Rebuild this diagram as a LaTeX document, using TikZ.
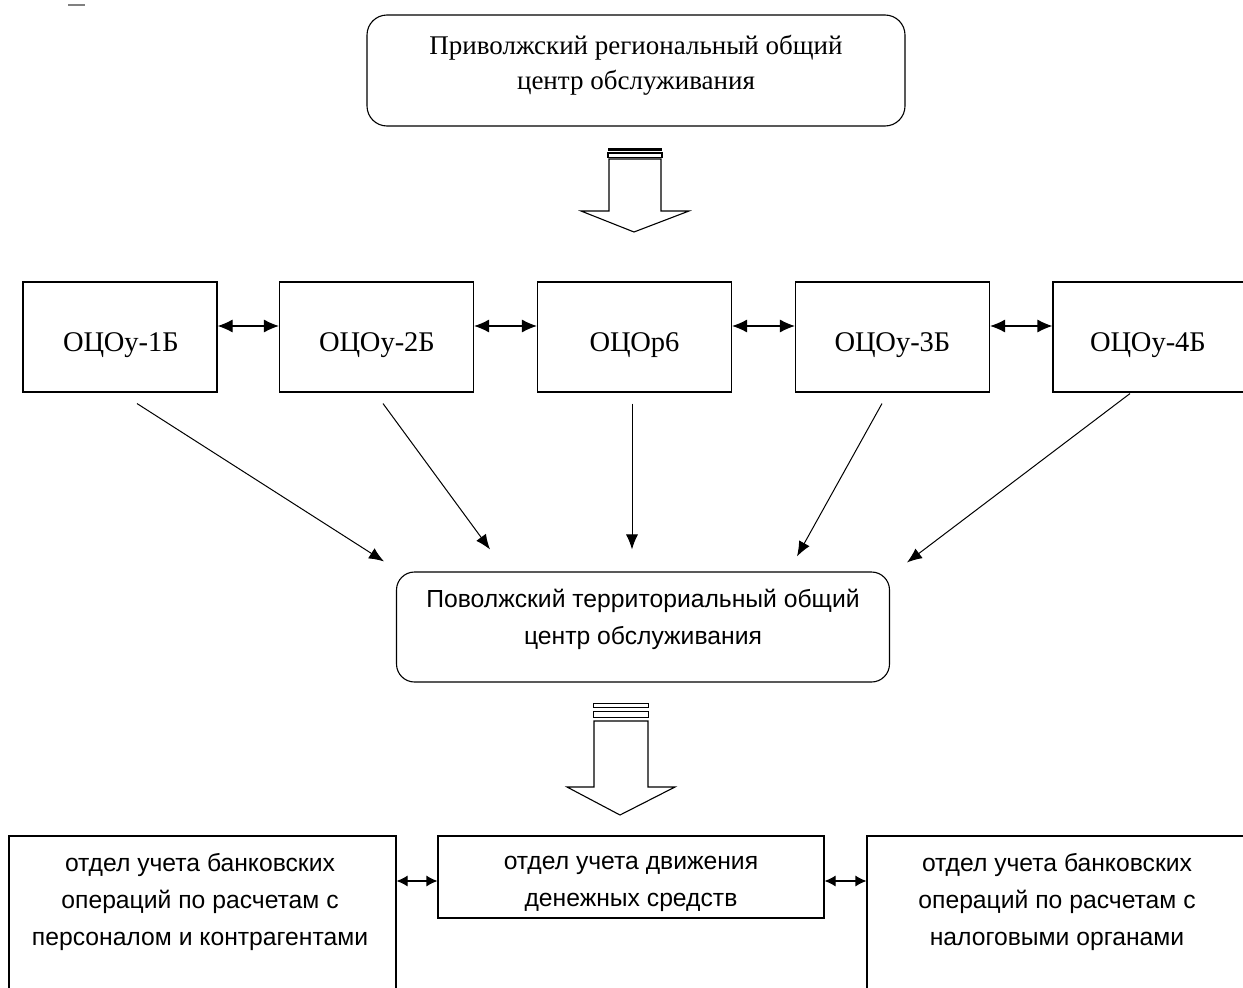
\documentclass[tikz,border=0pt]{standalone}
\usepackage{fontspec}
\setmainfont{Liberation Serif}
\newfontfamily\sansru{Liberation Sans}
\usetikzlibrary{arrows.meta}
\begin{document}
\begin{tikzpicture}[x=1pt,y=-1pt,
  box/.style={draw, line width=1.1pt, inner sep=0pt},
  rbox/.style={box, rounded corners=20pt},
  tx/.style={font=\fontsize{27}{35}\selectfont, align=center, inner sep=0pt},
  bx/.style={font=\fontsize{28.5}{35}\selectfont, inner sep=0pt},
  sx/.style={font=\sansru\fontsize{24.7}{37}\selectfont, align=center, inner sep=0pt},
  arr/.style={-{Latex[length=15pt,width=12pt]}, line width=1pt},
  darr/.style={{Latex[length=15pt,width=13pt]}-{Latex[length=15pt,width=13pt]}, line width=1.1pt},
  sdarr/.style={{Latex[length=11pt,width=11pt]}-{Latex[length=11pt,width=11pt]}, line width=1.1pt},
  blk/.style={draw, line width=1.1pt, fill=white, line join=miter}
]
\useasboundingbox[fill=white] (0,0) rectangle (1243,988);

% small grey dash
\draw[gray, line width=2pt] (68,5) -- (85,5);

% top rounded box
\node[rbox, minimum width=538pt, minimum height=111pt] (top) at (636,70.5) {};
\node[tx] (toptext) at (636,65) {Приволжский региональный общий\\центр обслуживания};

% block arrow 1
\fill (608,147.5) rectangle (662,150.5);
\draw[blk] (608,153) rectangle (662,157.5);
\draw[blk] (609,159) -- (609,211) -- (581,211) -- (634,232) -- (689,211) -- (661,211) -- (661,159) -- cycle;

% row boxes
\foreach \n/\x in {1/120,2/376.5,3/634.5,4/892.5,5/1150}{
  \node[box, minimum width=194pt, minimum height=110pt] (b\n) at (\x,337) {};
}
\node[bx] (t1) at (121,345) {ОЦОу-1Б};
\node[bx] (t2) at (377,345) {ОЦОу-2Б};
\node[bx] (t3) at (634.5,345) {ОЦОр6};
\node[bx] (t4) at (892.5,345) {ОЦОу-3Б};
\node[bx] (t5) at (1148,345) {ОЦОу-4Б};

\draw[darr] ([yshift=11pt]b1.east) -- ([yshift=11pt]b2.west);
\draw[darr] ([yshift=11pt]b2.east) -- ([yshift=11pt]b3.west);
\draw[darr] ([yshift=11pt]b3.east) -- ([yshift=11pt]b4.west);
\draw[darr] ([yshift=11pt]b4.east) -- ([yshift=11pt]b5.west);

% middle rounded box
\node[rbox, rounded corners=18pt, minimum width=493pt, minimum height=110pt] (mid) at (643,627) {};
\node[sx] (midtext) at (643,619) {Поволжский территориальный общий\\центр обслуживания};

% diagonal arrows
\draw[arr] ([xshift=17pt,yshift=-11pt]b1.south) -- ([xshift=-259pt,yshift=10pt]mid.north);
\draw[arr] ([xshift=6.5pt,yshift=-11pt]b2.south) -- ([xshift=-153pt,yshift=22pt]mid.north);
\draw[arr] ([xshift=-2.5pt,yshift=-11pt]b3.south) -- ([xshift=-11pt,yshift=22pt]mid.north);
\draw[arr] ([xshift=-10.5pt,yshift=-11pt]b4.south) -- ([xshift=154pt,yshift=15pt]mid.north);
\draw[arr] ([xshift=-20pt,yshift=-1pt]b5.south) -- ([xshift=264pt,yshift=9pt]mid.north);

% block arrow 2
\draw[blk, line width=1pt] (593,703) rectangle (648,707);
\draw[blk, line width=1pt] (593,711) rectangle (648,717);
\draw[blk] (594,721) -- (594,787) -- (567,787) -- (620,815) -- (675,787) -- (648,787) -- (648,721) -- cycle;

% bottom boxes
\node[box, minimum width=387pt, minimum height=170pt] (L) at (202.5,921) {};
\node[box, minimum width=386pt, minimum height=82pt] (M) at (631,877) {};
\node[box, minimum width=387pt, minimum height=170pt] (R) at (1060.5,921) {};
\node[sx] (Lt) at (200,902) {отдел учета банковских\\операций по расчетам с\\персоналом и контрагентами};
\node[sx] (Mt) at (631,884) {отдел учета движения\\денежных средств};
\node[sx] (Rt) at (1057,902) {отдел учета банковских\\операций по расчетам с\\налоговыми органами};

\draw[sdarr] ([yshift=40pt]L.east) -- ([yshift=-4pt]M.west);
\draw[sdarr] ([yshift=-4pt]M.east) -- ([yshift=40pt]R.west);
\end{tikzpicture}
\end{document}
